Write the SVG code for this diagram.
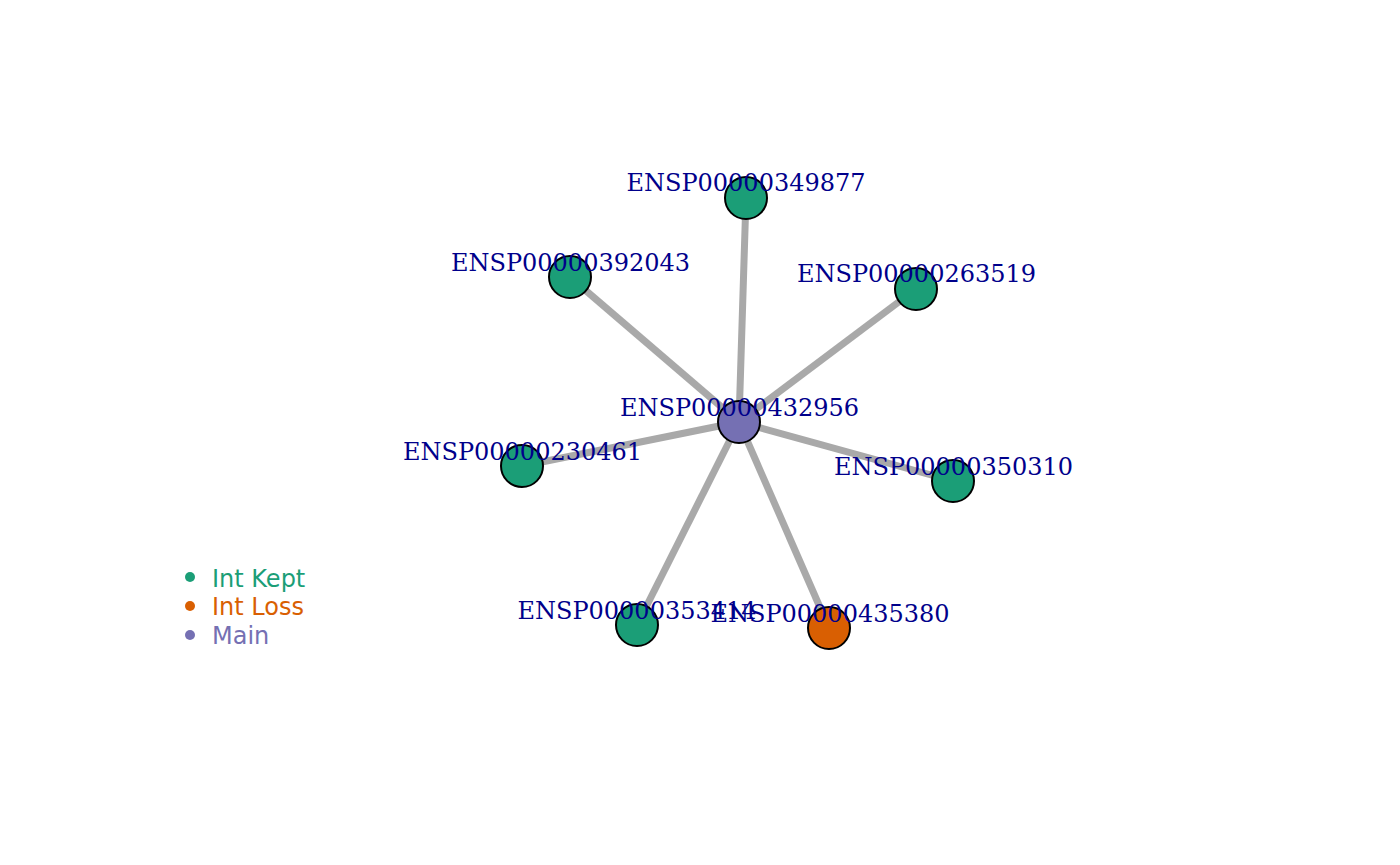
<svg xmlns="http://www.w3.org/2000/svg" width="1400" height="865" viewBox="0 0 1400 865">
<style>
.edge{stroke:#A9A9A9;stroke-width:7;fill:none}
.node{stroke:#000;stroke-width:2}
.kept{fill:#1B9E77}
.loss{fill:#D95F02}
.main{fill:#7570B3}
.lbl{font-family:"DejaVu Serif",serif;font-size:24px;fill:#00008B;text-anchor:middle}
.leg{font-family:"DejaVu Sans",sans-serif;font-size:24px}
</style>
<rect width="1400" height="865" fill="#fff"/>
<g id="edges">
<line class="edge" x1="739" y1="422" x2="746" y2="198"/>
<line class="edge" x1="739" y1="422" x2="570" y2="277"/>
<line class="edge" x1="739" y1="422" x2="916" y2="289"/>
<line class="edge" x1="739" y1="422" x2="522" y2="466"/>
<line class="edge" x1="739" y1="422" x2="953" y2="481"/>
<line class="edge" x1="739" y1="422" x2="637" y2="625"/>
<line class="edge" x1="739" y1="422" x2="829" y2="628"/>
</g>
<g id="n349877"><circle class="node kept" cx="746" cy="198" r="21"/><text class="lbl" x="746" y="191">ENSP00000349877</text></g>
<g id="n392043"><circle class="node kept" cx="570" cy="277" r="21"/><text class="lbl" x="570.5" y="271">ENSP00000392043</text></g>
<g id="n263519"><circle class="node kept" cx="916" cy="289" r="21"/><text class="lbl" x="916.5" y="282">ENSP00000263519</text></g>
<g id="n230461"><circle class="node kept" cx="522" cy="466" r="21"/><text class="lbl" x="522.5" y="460">ENSP00000230461</text></g>
<g id="n350310"><circle class="node kept" cx="953" cy="481" r="21"/><text class="lbl" x="953.5" y="475">ENSP00000350310</text></g>
<g id="n353414"><circle class="node kept" cx="637" cy="625" r="21"/><text class="lbl" x="637" y="619">ENSP00000353414</text></g>
<g id="n435380"><circle class="node loss" cx="829" cy="628" r="21"/><text class="lbl" x="830" y="622">ENSP00000435380</text></g>
<g id="n432956"><circle class="node main" cx="739" cy="422" r="21"/><text class="lbl" x="739.5" y="416">ENSP00000432956</text></g>
<g id="legend">
<circle cx="190" cy="577" r="5" class="kept"/><text class="leg" x="212" y="587" fill="#1B9E77">Int Kept</text>
<circle cx="190" cy="606" r="5" class="loss"/><text class="leg" x="212" y="615" fill="#D95F02">Int Loss</text>
<circle cx="190" cy="635" r="5" class="main"/><text class="leg" x="212" y="644" fill="#7570B3">Main</text>
</g>
</svg>
